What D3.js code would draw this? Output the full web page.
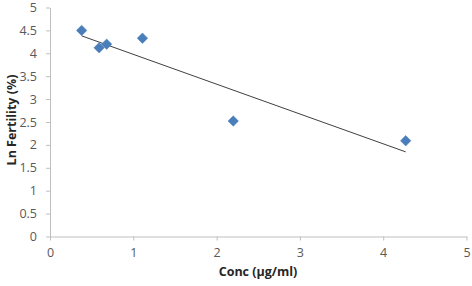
<!DOCTYPE html>
<html><head><meta charset="utf-8">
<script src="https://cdn.jsdelivr.net/npm/d3@7"></script>
<style>body{margin:0;background:#fff}svg{display:block}</style>
</head><body>
<svg id="c" width="472" height="286"></svg>
<script>
const concValues = [0.38, 0.59, 0.68, 1.11, 2.2, 4.27];
const lnFertility = [4.5, 4.12, 4.2, 4.33, 2.52, 2.09];
const xTicks = [0, 1, 2, 3, 4, 5];
const yTicks = [0, 0.5, 1, 1.5, 2, 2.5, 3, 3.5, 4, 4.5, 5];
const xTitle = "Conc (μg/ml)";
const yTitle = "Ln Fertility (%)";

const svg = d3.select("#c");
const x = d3.scaleLinear().domain([0, 5]).range([50, 466.5]);
const y = d3.scaleLinear().domain([0, 5]).range([236.5, 7.5]);
const font = "Open Sans, Liberation Sans, sans-serif";

const xa = svg.append("g").attr("transform", "translate(0,236.5)")
  .call(d3.axisBottom(x).tickValues(xTicks).tickFormat(d3.format("")).tickSizeInner(4).tickSizeOuter(0).tickPadding(8));
const ya = svg.append("g").attr("transform", "translate(50,0)")
  .call(d3.axisLeft(y).tickValues(yTicks).tickFormat(d3.format("")).tickSizeInner(4).tickSizeOuter(0).tickPadding(9));
[xa, ya].forEach(a => {
  a.select(".domain").attr("stroke", "#bfbfbf");
  a.selectAll(".tick line").attr("stroke", "#bfbfbf");
  a.selectAll(".tick text").attr("fill", "#595959").style("font-family", font).style("font-size", "12.5px");
});

// linear trendline from data (least squares)
const n = concValues.length;
const mx = d3.mean(concValues), my = d3.mean(lnFertility);
let sxy = 0, sxx = 0;
for (let i = 0; i < n; i++) { sxy += (concValues[i]-mx)*(lnFertility[i]-my); sxx += (concValues[i]-mx)**2; }
const slope = sxy / sxx, icpt = my - slope * mx;
const x0 = d3.min(concValues), x1 = d3.max(concValues);
svg.append("line")
  .attr("x1", x(x0)).attr("y1", y(icpt + slope*x0))
  .attr("x2", x(x1)).attr("y2", y(icpt + slope*x1))
  .attr("stroke", "#404040").attr("stroke-width", 1);

svg.selectAll("path.pt").data(concValues).enter().append("path")
  .attr("class", "pt")
  .attr("d", d3.symbol().type(d3.symbolDiamond2).size(70))
  .attr("transform", (d, i) => `translate(${x(d)},${y(lnFertility[i])})`)
  .attr("fill", "#4a7ebb").attr("stroke", "#4a7ebb").attr("stroke-width", 0.5);

svg.append("text").attr("x", 258).attr("y", 276).attr("text-anchor", "middle")
  .style("font-family", font).style("font-size", "12.5px").style("font-weight", "bold")
  .attr("fill", "#262626").text(xTitle);
svg.append("text").attr("transform", "translate(16,120) rotate(-90)").attr("text-anchor", "middle")
  .style("font-family", font).style("font-size", "12.5px").style("font-weight", "bold")
  .attr("fill", "#262626").text(yTitle);
</script>
</body></html>
